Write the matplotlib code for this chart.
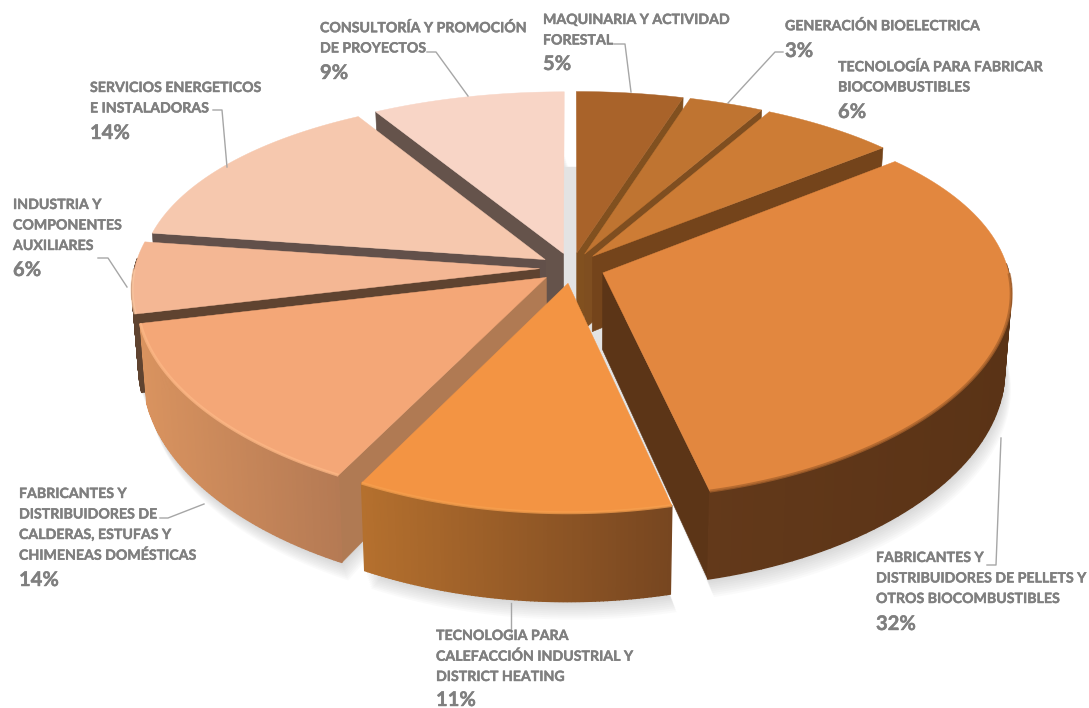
import numpy as np
import matplotlib
matplotlib.use('Agg')
from matplotlib import pyplot as plt
from matplotlib.colors import to_rgb
from matplotlib.patches import Polygon
from matplotlib import patheffects as pe

# clockwise from 12 o'clock
labels = ['MAQUINARIA Y ACTIVIDAD\nFORESTAL', 'GENERACIÓN BIOELECTRICA',
          'TECNOLOGÍA PARA FABRICAR\nBIOCOMBUSTIBLES',
          'FABRICANTES Y\nDISTRIBUIDORES DE PELLETS Y\nOTROS BIOCOMBUSTIBLES',
          'TECNOLOGIA PARA\nCALEFACCIÓN INDUSTRIAL Y\nDISTRICT HEATING',
          'FABRICANTES Y\nDISTRIBUIDORES DE\nCALDERAS, ESTUFAS Y\nCHIMENEAS DOMÉSTICAS',
          'INDUSTRIA Y\nCOMPONENTES\nAUXILIARES',
          'SERVICIOS ENERGETICOS\nE INSTALADORAS',
          'CONSULTORÍA Y PROMOCIÓN\nDE PROYECTOS']
shares = [4.7, 3.3, 6, 32.3, 11.3, 13.7, 6, 14.2, 8.5]
pct_labels = ['5%', '3%', '6%', '32%', '11%', '14%', '6%', '14%', '9%']

top_colors = ['#A9632A', '#BF7431', '#CD7C35', '#E2873F', '#F39443',
              '#F4A777', '#F4B794', '#F6C8AE', '#F8D5C6']
wall_colors = ['#81501F', '#7F4E20', '#74441B', '#5C3517', '#774620',
               '#B07A53', '#5F4330', '#62504A', '#65534B']
side_left = ['#81501F', '#7F4E20', '#74441B', '#63391A', '#B5702E',
             '#D9935F', '#5F4330', '#62504A', '#65534B']
side_right = ['#81501F', '#7F4E20', '#74441B', '#5A3316', '#774620',
              '#B57A54', '#5F4330', '#62504A', '#65534B']
rim_colors = [None, None, None, '#A8622C', '#F7A04E', '#FDB886', '#F9C6A0', None, None]

# back to front
draw_order = [8, 0, 1, 2, 7, 6, 3, 5, 4]

# left x, top line y, pct y
label_pos = [(543, 20, 64), (785, 26, 51), (838, 67, 112), (876, 558, 624),
             (436, 636, 700), (19, 494, 580), (13, 205, 270), (90, 88, 133), (320, 28, 73)]
leaders = [[(614, 44), (625, 44), (631, 92)], [(783, 52), (775, 52), (728, 103)], None,
           [(987, 565), (996, 565), (1001, 438)], [(511, 603), (511, 632)],
           [(160, 518), (168, 518), (204, 504)], [(98, 258), (108, 258), (127, 287)],
           [(213, 110), (222, 110), (227, 167)], [(427, 52), (436, 52), (468, 96)]]

CX, CY = 572, 268
A, B = 405, 190
KX, KY = 0.10, 0.15
EXPLODE = 0.08


def project(u, v):
    return CX + A * u / (1 + KX * v), CY - B * v / (1 + KY * v)


def drop(x, y, v):
    # bottom face of the pie, a bit nearer the centre in x
    return CX + (x - CX) * 0.985, y + 76 - 12 * v


def blend(c1, c2, t):
    c1, c2 = np.array(to_rgb(c1)), np.array(to_rgb(c2))
    return tuple(c1 + (c2 - c1) * t)


fig = plt.figure(figsize=(10.89, 7.08), dpi=100)
ax = fig.add_axes([0, 0, 1, 1])
ax.set_xlim(0, 1089)
ax.set_ylim(708, 0)
ax.axis('off')

edges = np.deg2rad(np.cumsum([0] + shares) * 3.6)
slices = []
for i in range(len(shares)):
    t0, t1 = edges[i], edges[i + 1]
    mid = (t0 + t1) / 2
    ou, ov = EXPLODE * np.sin(mid), EXPLODE * np.cos(mid)
    th = np.linspace(t0, t1, 80)
    u, v = ou + np.sin(th), ov + np.cos(th)
    rx, ry = project(u, v)
    ax_, ay_ = project(ou, ov)
    slices.append(dict(t0=t0, t1=t1, th=th, u=u, v=v, rx=rx, ry=ry, ax=ax_, ay=ay_, ov=ov))

# soft ground shadow
for i, s in enumerate(slices):
    bx, by = drop(s['rx'], s['ry'], s['v'])
    apx, apy = drop(s['ax'], s['ay'], s['ov'])
    for d in range(2, 20, 2):
        pts = np.column_stack([np.r_[apx, bx + d * 0.35], np.r_[apy, by + d]])
        ax.add_patch(Polygon(pts, closed=True, fc='#808080', ec='none', alpha=0.035, zorder=1))
disc = np.linspace(0, 2 * np.pi, 200)
disc_v = np.where(np.cos(disc) > 0, np.cos(disc), 0.7 * np.cos(disc))
dx, dy = project(0.9 * np.sin(disc), disc_v)
dx, dy = drop(dx, dy, disc_v)
ax.add_patch(Polygon(np.column_stack([dx, dy]), closed=True, fc='#E3E3E3', ec='none', zorder=1))

z = 2
for i in draw_order:
    s = slices[i]
    bx, by = drop(s['rx'], s['ry'], s['v'])
    apx, apy = drop(s['ax'], s['ay'], s['ov'])
    # radial walls facing the viewer
    walls = []
    if np.sin(s['t0']) < -1e-6:
        walls.append(0)
    if np.sin(s['t1']) > 1e-6:
        walls.append(-1)
    for k in walls:
        quad = [(s['ax'], s['ay']), (s['rx'][k], s['ry'][k]), (bx[k], by[k]), (apx, apy)]
        ax.add_patch(Polygon(quad, closed=True, fc=wall_colors[i], ec=wall_colors[i], lw=0.4, zorder=z))
    # outer side, shaded along x
    xmin, xmax = bx.min(), bx.max()
    for j in range(len(s['th']) - 1):
        if np.cos(s['th'][j]) > 0.05:
            continue
        t = (bx[j] - xmin) / max(xmax - xmin, 1)
        c = blend(side_left[i], side_right[i], t)
        quad = [(s['rx'][j], s['ry'][j]), (s['rx'][j + 1], s['ry'][j + 1]), (bx[j + 1], by[j + 1]), (bx[j], by[j])]
        ax.add_patch(Polygon(quad, closed=True, fc=c, ec=c, lw=1.0, zorder=z))
    # top face
    top = np.column_stack([np.r_[s['ax'], s['rx']], np.r_[s['ay'], s['ry']]])
    ax.add_patch(Polygon(top, closed=True, fc=top_colors[i], ec=top_colors[i], lw=0.3, zorder=z))
    if rim_colors[i]:
        front = np.cos(s['th']) < 0.0
        ax.plot(s['rx'][front], s['ry'][front], color=rim_colors[i], lw=2.2, alpha=0.75, zorder=z,
                solid_capstyle='butt')
    z += 1

heavy = [pe.withStroke(linewidth=0.3, foreground='#7F7F7F')]
for i in range(len(labels)):
    x, y, py = label_pos[i]
    for n, line in enumerate(labels[i].split('\n')):
        ax.text(x, y + n * 20.5, line, family='Lato', weight='bold', fontsize=10.2, color='#7F7F7F',
                va='center', ha='left', zorder=30, path_effects=heavy)
    ax.text(x, py, pct_labels[i], family='Lato', weight='bold', fontsize=14.5, color='#7F7F7F',
            va='center', ha='left', zorder=30, path_effects=heavy)
    if leaders[i]:
        lx, ly = zip(*leaders[i])
        ax.plot(lx, ly, color='#A6A6A6', lw=1, zorder=29)

fig.savefig('out.png', dpi=100, facecolor='white')
